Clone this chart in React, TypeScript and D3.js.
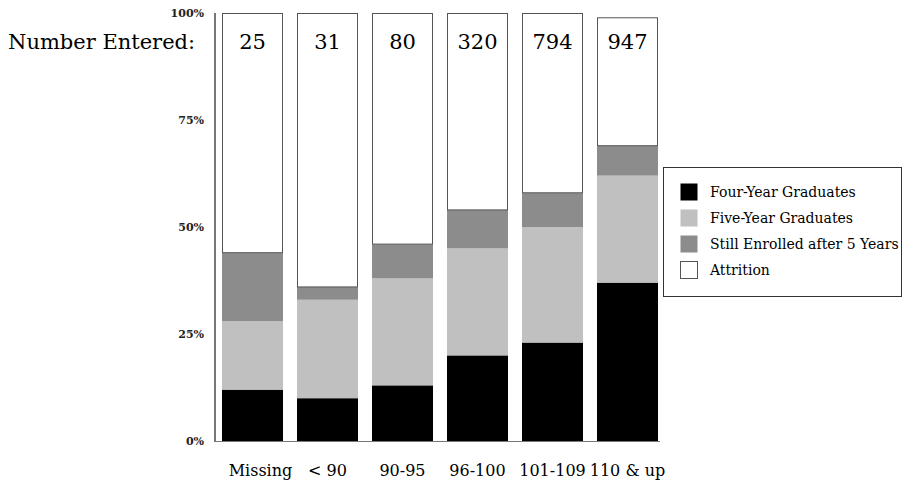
import React from "react";
import * as d3 from "d3";

const categories = ["Missing", "< 90", "90-95", "96-100", "101-109", "110 & up"];
const numberEntered = [25, 31, 80, 320, 794, 947];
const fourYear = [12, 10, 13, 20, 23, 37];
const fiveYear = [16, 23, 25, 25, 27, 25];
const stillEnrolled = [16, 3, 8, 9, 8, 7];
const attrition = [56, 64, 54, 46, 42, 30];
const seriesNames = ["Four-Year Graduates", "Five-Year Graduates", "Still Enrolled after 5 Years", "Attrition"];
const seriesColors = ["#000000", "#c0c0c0", "#8c8c8c", "#ffffff"];
const yTicks = [0, 25, 50, 75, 100];

const W = 902;
const H = 489;
const FONT = "'DejaVu Serif', 'Liberation Serif', serif";

export default function App() {
  const x = d3.scaleBand<string>().domain(categories).range([215, 665]).paddingInner(0.1867).paddingOuter(0.0933);
  const y = d3.scaleLinear().domain([0, 100]).range([441, 13]);

  const rows = categories.map((c, i) => ({
    cat: c,
    v0: fourYear[i],
    v1: fiveYear[i],
    v2: stillEnrolled[i],
    v3: attrition[i],
  }));
  const stack = d3.stack<any>().keys(["v0", "v1", "v2", "v3"]);
  const layers = stack(rows);

  return (
    <svg width={W} height={H} style={{ position: "absolute", left: 0, top: 0, background: "#fff" }} fontFamily={FONT}>
      <rect x={0} y={0} width={W} height={H} fill="#fff" />
      {/* bars */}
      {layers.map((layer, li) => (
        <g key={li}>
          {layer.map((d, i) => (
            <rect
              key={i}
              x={x(categories[i])! + (li === 3 ? 0.5 : 0)}
              y={y(d[1]) + (li === 3 ? 0.5 : 0)}
              width={x.bandwidth() - (li === 3 ? 1 : 0)}
              height={y(d[0]) - y(d[1]) - (li === 3 ? 0.5 : 0)}
              fill={seriesColors[li]}
              stroke={li === 3 ? "#555" : "none"}
              strokeWidth={1}
            />
          ))}
        </g>
      ))}
      {/* axes */}
      <line x1={215} x2={215} y1={y(100)} y2={y(0) + 1} stroke="#777" strokeWidth={2} />
      <line x1={214} x2={x.range()[1] - 5} y1={y(0) + 0.5} y2={y(0) + 0.5} stroke="#777" strokeWidth={1} />
      {yTicks.map((t) => (
        <text key={t} x={204} y={y(t)} dy="0.35em" textAnchor="end" fontSize={11} fontWeight="bold" fill="#222">
          {t}%
        </text>
      ))}
      {/* number entered */}
      <text x={8} y={49} fontSize={21} fill="#000">Number Entered:</text>
      {numberEntered.map((n, i) => (
        <text key={i} x={x(categories[i])! + x.bandwidth() / 2} y={49} textAnchor="middle" fontSize={21} fill="#000">
          {n}
        </text>
      ))}
      {/* category labels */}
      {categories.map((c, i) => (
        <text key={c} x={x(c)! + x.bandwidth() / 2 + (i === 0 ? 8 : 0)} y={476} textAnchor="middle" fontSize={16} fill="#000">
          {c}
        </text>
      ))}
      {/* legend */}
      <rect x={663.5} y={167.5} width={238} height={129} fill="#fff" stroke="#333" strokeWidth={1} />
      {seriesNames.map((s, i) => (
        <g key={s}>
          <rect x={680.5} y={183.5 + i * 26} width={17} height={17} fill={seriesColors[i]} stroke={i === 3 ? "#555" : "none"} />
          <text x={710} y={192 + i * 26} dy="0.35em" fontSize={14} fill="#000">{s}</text>
        </g>
      ))}
    </svg>
  );
}
